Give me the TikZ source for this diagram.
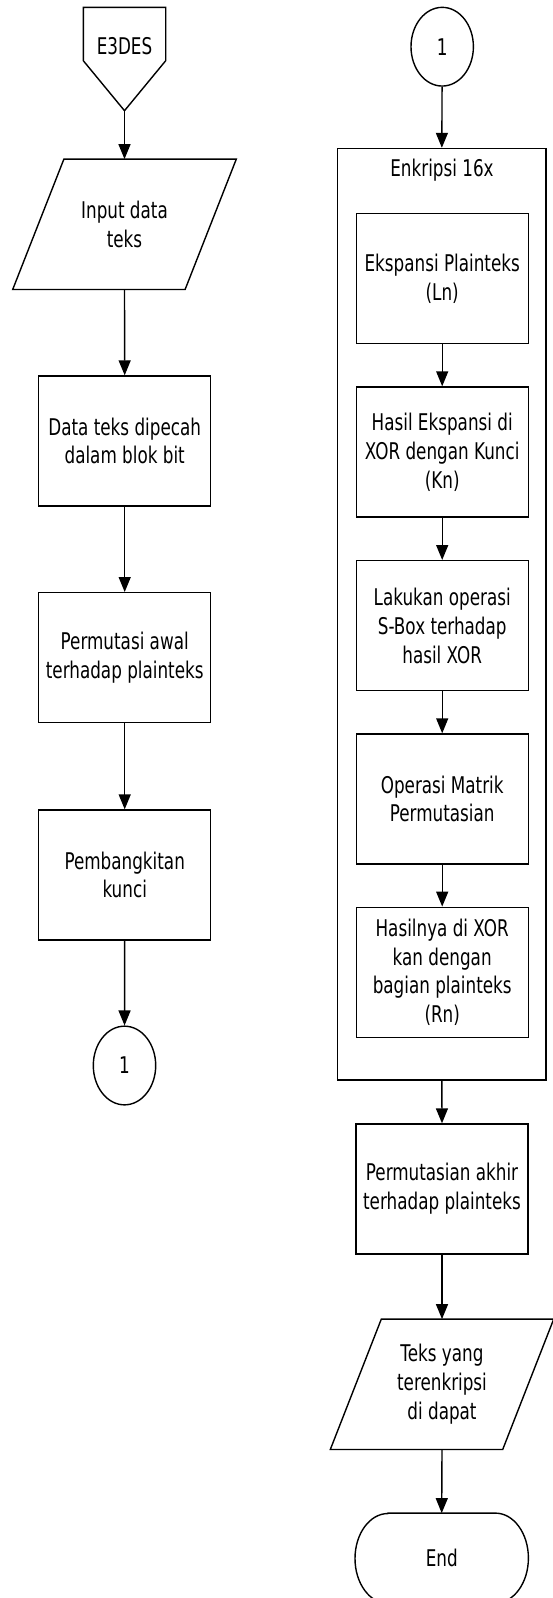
\documentclass[tikz,border=0pt]{standalone}
\usepackage{fontspec}
\setmainfont{DejaVu Sans}[FakeStretch=0.73]
\usetikzlibrary{shapes.geometric,arrows.meta}
\begin{document}
\begin{tikzpicture}[x=1pt,y=1pt,
  every node/.style={font=\fontsize{23}{28.8}\selectfont, align=center, inner sep=0pt},
  line/.style={line width=1.4pt, line join=miter},
  arr/.style={line width=1.4pt, -{Triangle[width=12pt,length=15pt]}},
  procbox/.style={draw, line width=1.4pt, rectangle, minimum width=172pt, minimum height=130pt},
  iobox/.style={rectangle, minimum width=172pt, minimum height=130pt},
  connect/.style={draw, line width=1.4pt, ellipse, minimum width=62.4pt, minimum height=78.7pt}
]
\useasboundingbox (0,0) rectangle (553,-1598);
\fill[white] (0,0) rectangle (553,-1598);

% ---------- left column ----------
\draw[line] (83.3,-7.3) -- (165.7,-7.3) -- (165.7,-60.7) -- (124.5,-110.7) -- (83.3,-60.7) -- cycle;
\node (start) at (124.5,-46) {E3DES};
\coordinate (starttip) at (124.5,-110.7);

\node[iobox] (inp) at (124.5,-224.3) {Input data\\teks};
\draw[line] ([xshift=25.6pt]inp.north west) -- ([xshift=25.6pt]inp.north east)
  -- ([xshift=-25.6pt]inp.south east) -- ([xshift=-25.6pt]inp.south west) -- cycle;

\node[procbox] (la) at (124.7,-441) {Data teks dipecah\\dalam blok bit};
\node[procbox] (lb) at (124.7,-657.7) {Permutasi awal\\terhadap plainteks};
\node[procbox] (lc) at (124.7,-875) {Pembangkitan\\kunci};
\node[connect] (conl) at (124.5,-1065.5) {1};

\draw[arr] (starttip) -- (inp.north);
\draw[arr] (inp.south) -- (la.north);
\draw[arr] (la) -- (lb);
\draw[arr] (lb) -- (lc);
\draw[arr] (lc) -- (conl);

% ---------- right column ----------
\node[connect] (conr) at (442.2,-46.7) {1};
\node[draw, line width=1.4pt, rectangle, minimum width=208.3pt, minimum height=931.5pt] (loop) at (441.85,-614.25) {};
\node (looptitle) at (442,-170) {Enkripsi 16x};

\node[procbox] (r1) at (442.2,-278.7) {Ekspansi Plainteks\\(Ln)};
\node[procbox] (r2) at (442.2,-452) {Hasil Ekspansi di\\XOR dengan Kunci\\(Kn)};
\node[procbox] (r3) at (442.2,-625.7) {Lakukan operasi\\S-Box terhadap\\hasil XOR};
\node[procbox] (r4) at (442.2,-799) {Operasi Matrik\\Permutasian};
\node[procbox] (r5) at (442.2,-972.3) {Hasilnya di XOR\\kan dengan\\bagian plainteks\\(Rn)};
\node[procbox] (r6) at (442,-1189) {Permutasian akhir\\terhadap plainteks};

\node[iobox] (outp) at (442,-1384.3) {Teks yang\\terenkripsi\\di dapat};
\draw[line] ([xshift=25.5pt]outp.north west) -- ([xshift=25.5pt]outp.north east)
  -- ([xshift=-25.5pt]outp.south east) -- ([xshift=-25.5pt]outp.south west) -- cycle;

\node[rectangle, minimum width=173pt, minimum height=90pt] (endn) at (441.7,-1558.3) {End};
\draw[line] ([xshift=33pt]endn.north west) -- ([xshift=-33pt]endn.north east)
  arc[start angle=90, end angle=-90, x radius=33pt, y radius=45pt]
  -- ([xshift=33pt]endn.south west)
  arc[start angle=270, end angle=90, x radius=33pt, y radius=45pt] -- cycle;

\draw[arr] (conr) -- (loop.north);
\draw[arr] (r1) -- (r2);
\draw[arr] (r2) -- (r3);
\draw[arr] (r3) -- (r4);
\draw[arr] (r4) -- (r5);
\draw[arr] (loop.south) -- (r6.north);
\draw[arr] (r6.south) -- (outp.north);
\draw[arr] (outp.south) -- (endn.north);
\end{tikzpicture}
\end{document}
